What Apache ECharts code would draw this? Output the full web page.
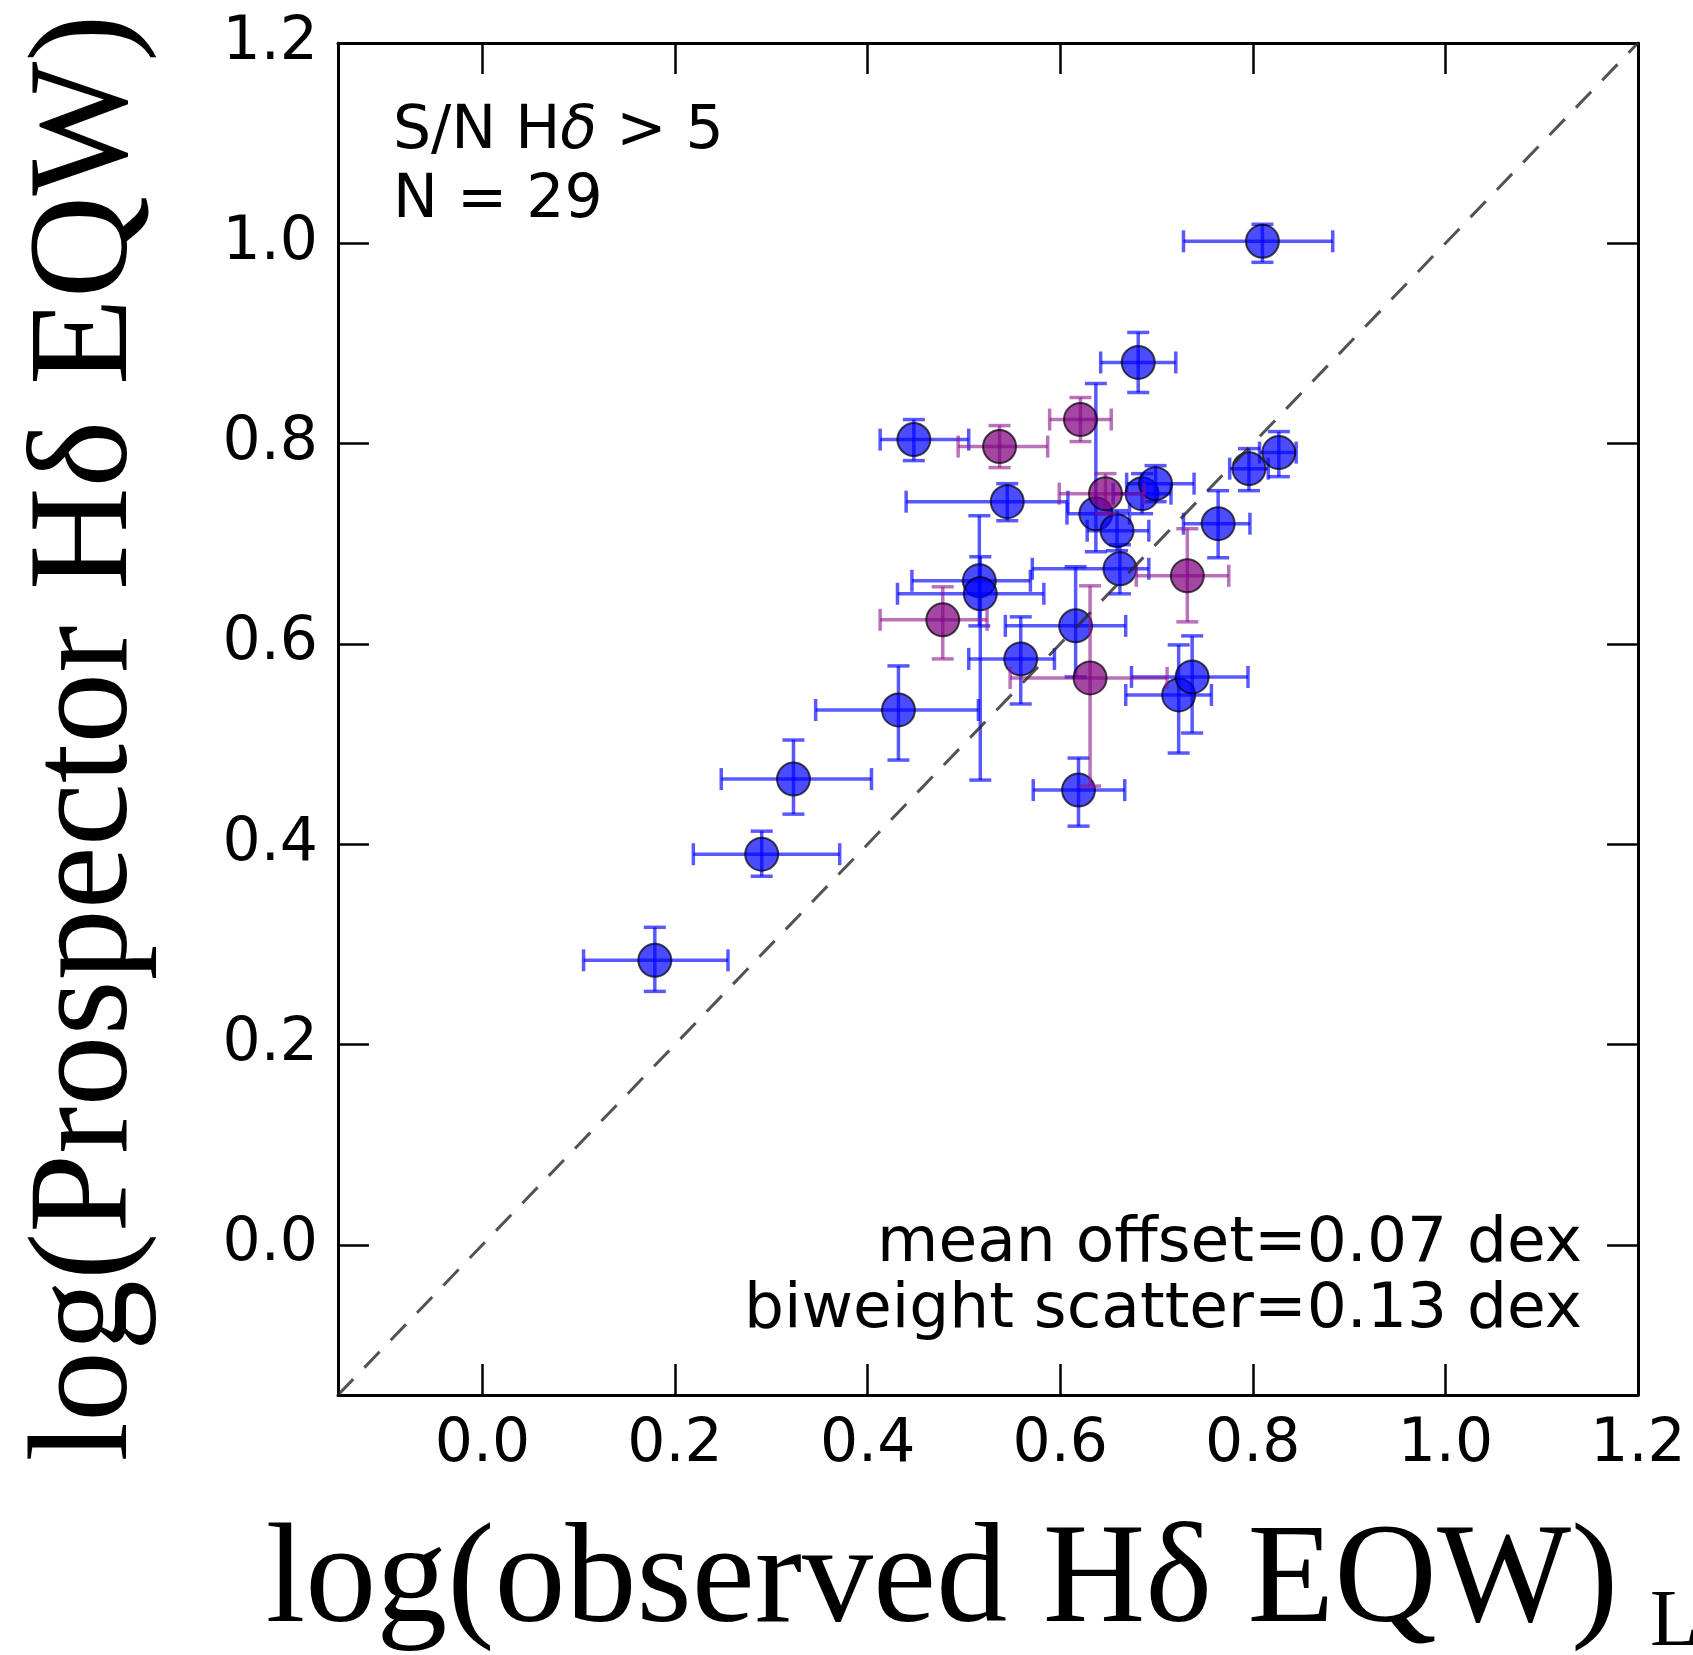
<!DOCTYPE html>
<html>
<head>
<meta charset="utf-8">
<script src="https://cdn.jsdelivr.net/npm/echarts@6/dist/echarts.min.js"></script>
<style>
html,body{margin:0;padding:0;background:#fff;}
#chart{width:1693px;height:1655px;}
</style>
</head>
<body>
<div id="chart"></div>
<script>
// ---- data ----
const tickValues = [0.0, 0.2, 0.4, 0.6, 0.8, 1.0, 1.2];
const axisRange = [-0.15, 1.2];
const oneToOne = [-0.15, 1.2];

// blue points: x, y, and asymmetric errors (minus/plus)
const blueX    = [0.810, 0.681, 0.448, 0.545, 0.637, 0.659, 0.685, 0.699, 0.796, 0.827, 0.764, 0.662, 0.616, 0.723, 0.737, 0.559, 0.516, 0.517, 0.432, 0.323, 0.290, 0.179, 0.619];
const blueY    = [1.002, 0.881, 0.804, 0.742, 0.730, 0.713, 0.750, 0.760, 0.775, 0.791, 0.720, 0.675, 0.618, 0.549, 0.567, 0.585, 0.663, 0.650, 0.534, 0.465, 0.390, 0.284, 0.454];
const blueXLo  = [0.082, 0.039, 0.035, 0.105, 0.030, 0.031, 0.030, 0.030, 0.020, 0.020, 0.036, 0.091, 0.073, 0.055, 0.063, 0.054, 0.070, 0.086, 0.086, 0.075, 0.071, 0.074, 0.047];
const blueXHi  = [0.073, 0.039, 0.057, 0.063, 0.035, 0.033, 0.030, 0.040, 0.020, 0.018, 0.033, 0.030, 0.052, 0.034, 0.058, 0.035, 0.053, 0.066, 0.083, 0.081, 0.081, 0.076, 0.048];
const blueYLo  = [0.021, 0.030, 0.021, 0.019, 0.038, 0.020, 0.020, 0.018, 0.022, 0.024, 0.034, 0.025, 0.051, 0.058, 0.056, 0.045, 0.045, 0.186, 0.050, 0.035, 0.022, 0.031, 0.036];
const blueYHi  = [0.017, 0.030, 0.020, 0.018, 0.130, 0.020, 0.020, 0.018, 0.020, 0.021, 0.033, 0.024, 0.059, 0.050, 0.041, 0.042, 0.065, 0.037, 0.044, 0.039, 0.023, 0.033, 0.032];

// purple points
const purpX    = [0.621, 0.537, 0.647, 0.732, 0.631, 0.478];
const purpY    = [0.824, 0.797, 0.750, 0.668, 0.566, 0.624];
const purpXLo  = [0.032, 0.043, 0.048, 0.053, 0.083, 0.065];
const purpXHi  = [0.032, 0.050, 0.040, 0.043, 0.080, 0.046];
const purpYLo  = [0.022, 0.021, 0.020, 0.046, 0.108, 0.039];
const purpYHi  = [0.022, 0.021, 0.020, 0.047, 0.092, 0.033];

const textSN = "S/N H";
const textN = "N = 29";
const textOffset = "mean offset=0.07 dex";
const textScatter = "biweight scatter=0.13 dex";
const xTitle = "log(observed Hδ EQW)";
const yTitle = "log(Prospector Hδ EQW)";

// ---- build ----
function rows(x, y, xl, xh, yl, yh) {
  return x.map((v, i) => [v, y[i], xl[i], xh[i], yl[i], yh[i]]);
}
const blueRows = rows(blueX, blueY, blueXLo, blueXHi, blueYLo, blueYHi);
const purpRows = rows(purpX, purpY, purpXLo, purpXHi, purpYLo, purpYHi);

function errRender(color) {
  return function (params, api) {
    const x = api.value(0), y = api.value(1);
    const xl = api.value(2), xh = api.value(3), yl = api.value(4), yh = api.value(5);
    const pL = api.coord([x - xl, y]), pR = api.coord([x + xh, y]);
    const pB = api.coord([x, y - yl]), pT = api.coord([x, y + yh]);
    const c = 11;
    const st = {stroke: color, lineWidth: 3.5, fill: null};
    const ln = (a, b, d, e) => ({type: 'line', shape: {x1: a, y1: b, x2: d, y2: e}, style: st});
    return {type: 'group', children: [
      ln(pL[0], pL[1], pR[0], pR[1]),
      ln(pB[0], pB[1], pT[0], pT[1]),
      ln(pL[0], pL[1] - c, pL[0], pL[1] + c),
      ln(pR[0], pR[1] - c, pR[0], pR[1] + c),
      ln(pB[0] - c, pB[1], pB[0] + c, pB[1]),
      ln(pT[0] - c, pT[1], pT[0] + c, pT[1])
    ]};
  };
}

const tickFont = {fontFamily: 'DejaVu Sans', fontSize: 60, color: '#000'};
const lineStyle = {color: '#000', width: 3};

function mkAxis(pos, showLabel) {
  return {
    type: 'value', position: pos, min: axisRange[0], max: axisRange[1],
    axisLine: {show: true, onZero: false, lineStyle: lineStyle},
    axisTick: {show: true, inside: true, length: 31, lineStyle: {color: '#000', width: 2.5}, customValues: tickValues},
    axisLabel: Object.assign({show: showLabel, margin: 20, customValues: tickValues,
      formatter: v => v.toFixed(1)}, tickFont),
    splitLine: {show: false}
  };
}

const chart = echarts.init(document.getElementById('chart'), null, {renderer: 'canvas'});
chart.setOption({
  animation: false,
  backgroundColor: '#fff',
  grid: {left: 338, top: 43, width: 1300, height: 1352, containLabel: false},
  xAxis: [mkAxis('bottom', true), mkAxis('top', false)],
  yAxis: [mkAxis('left', true), mkAxis('right', false)],
  series: [
    {type: 'custom', xAxisIndex: 0, yAxisIndex: 0, renderItem: errRender('rgba(0,0,255,0.65)'),
     data: blueRows, encode: {x: 0, y: 1}, z: 2, clip: true},
    {type: 'scatter', xAxisIndex: 0, yAxisIndex: 0, data: blueRows.map(r => [r[0], r[1]]), symbolSize: 33,
     itemStyle: {color: 'rgba(0,0,255,0.7)', borderColor: 'rgba(0,0,0,0.7)', borderWidth: 2, opacity: 1}, z: 3},
    {type: 'custom', xAxisIndex: 0, yAxisIndex: 0, renderItem: errRender('rgba(140,20,140,0.6)'),
     data: purpRows, encode: {x: 0, y: 1}, z: 4, clip: true},
    {type: 'scatter', xAxisIndex: 0, yAxisIndex: 0, data: purpRows.map(r => [r[0], r[1]]), symbolSize: 33,
     itemStyle: {color: 'rgba(128,0,128,0.72)', borderColor: 'rgba(0,0,0,0.7)', borderWidth: 2, opacity: 1}, z: 5},
    {type: 'line', xAxisIndex: 0, yAxisIndex: 0, data: [[oneToOne[0], oneToOne[0]], [oneToOne[1], oneToOne[1]]],
     symbol: 'none', lineStyle: {color: 'rgba(40,40,40,0.8)', width: 3, type: [22, 16]}, z: 6, silent: true}
  ],
  graphic: [
    {type: 'text', x: 393, y: 132, z: 100, style: {
      text: '{a|' + textSN + '}{d|δ}{a| > 5}',
      rich: {a: {fontFamily: 'DejaVu Sans', fontSize: 60, fill: '#000'},
             d: {fontFamily: 'DejaVu Sans', fontStyle: 'italic', fontSize: 60, fill: '#000'}},
      verticalAlign: 'middle', align: 'left'}},
    {type: 'text', x: 393, y: 201, z: 100, style: {text: textN, font: '60px "DejaVu Sans"', fill: '#000', verticalAlign: 'middle', align: 'left'}},
    {type: 'text', x: 1582, y: 1245, z: 100, style: {text: textOffset, font: '63px "DejaVu Sans"', fill: '#000', verticalAlign: 'middle', align: 'right'}},
    {type: 'text', x: 1582, y: 1311, z: 100, style: {text: textScatter, font: '63px "DejaVu Sans"', fill: '#000', verticalAlign: 'middle', align: 'right'}},
    {type: 'text', x: 942, y: 1584, z: 100, style: {text: xTitle, font: '142px "Liberation Serif"', fill: '#000', verticalAlign: 'middle', align: 'center'}},
    {type: 'text', x: 89, y: 738, rotation: Math.PI / 2, z: 100, style: {text: yTitle, font: '142px "Liberation Serif"', fill: '#000', verticalAlign: 'middle', align: 'center'}},
    {type: 'text', x: 1650, y: 1624, z: 100, style: {text: 'Lo', font: '80px "Liberation Serif"', fill: '#000', verticalAlign: 'middle', align: 'left'}}
  ]
});
</script>
</body>
</html>
